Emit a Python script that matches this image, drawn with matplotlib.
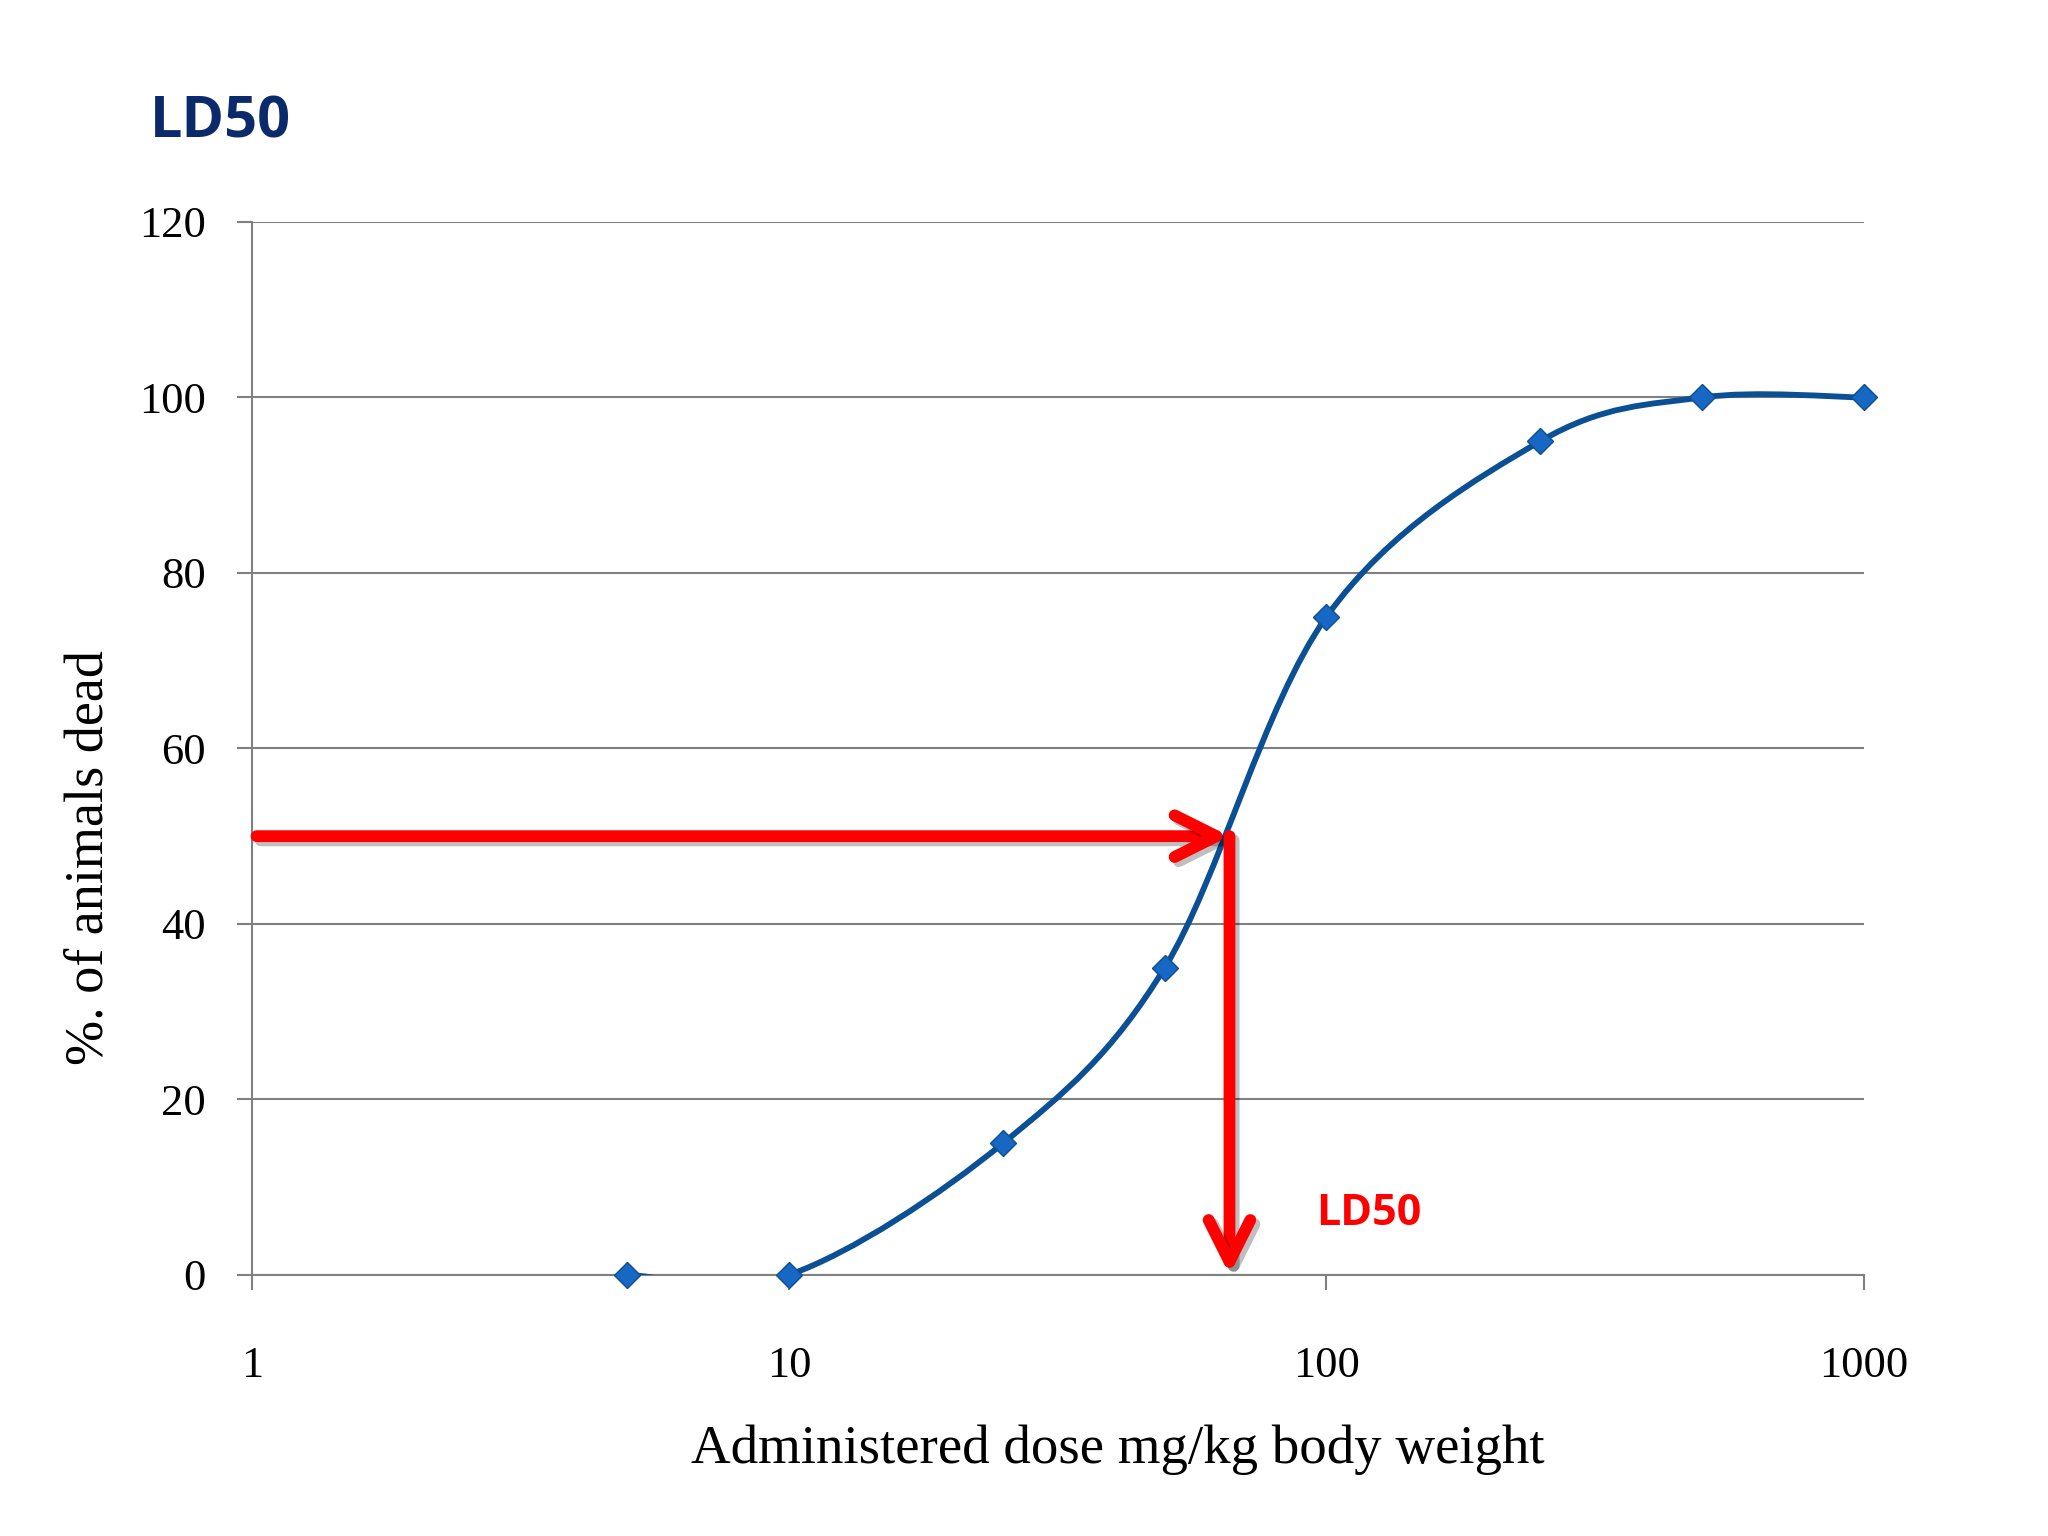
import numpy as np
import matplotlib
matplotlib.use('Agg')
import matplotlib.pyplot as plt
from matplotlib.path import Path
from matplotlib.patches import PathPatch, FancyArrowPatch
from matplotlib import patheffects as pe

# Données
dose = [5, 10, 25, 50, 100, 250, 500, 1000]
pct_dead = [0, 0, 15, 35, 75, 95, 100, 100]
ld50_dose = 66
x_ticks = [1, 10, 100, 1000]
x_tick_labels = ['1', '10', '100', '1000']
y_ticks = [0, 20, 40, 60, 80, 100, 120]

line_color = '#0b4f94'
marker_color = '#1668c4'
red = '#ff0000'
gray = '#808080'

fig = plt.figure(figsize=(20.48, 15.36), dpi=100)
ax = fig.add_axes([0.123, 0.170, 0.787, 0.6855])
ax.set_xscale('log')
ax.set_xlim(1, 1000)
ax.set_ylim(0, 120)

# Courbe lissée (Bezier façon Excel, calculée en coordonnées écran)
pts = ax.transData.transform(np.column_stack([dose, pct_dead]))
n = len(pts)
verts = [pts[0]]
codes = [Path.MOVETO]
for i in range(n - 1):
    p_prev = pts[i - 1] if i > 0 else pts[i]
    p_next2 = pts[i + 2] if i + 2 < n else pts[i + 1]
    c1 = pts[i] + (pts[i + 1] - p_prev) / 6
    c2 = pts[i + 1] - (p_next2 - pts[i]) / 6
    verts += [c1, c2, pts[i + 1]]
    codes += [Path.CURVE4] * 3
verts = ax.transData.inverted().transform(np.array(verts))
ax.add_patch(PathPatch(Path(verts, codes), fill=False, edgecolor=line_color,
                       lw=4.2, transform=ax.transData, zorder=3))
ax.plot(dose, pct_dead, linestyle='none', marker='D', markersize=13,
        markerfacecolor=marker_color, markeredgecolor='#0d4f8f',
        markeredgewidth=1, clip_on=False, zorder=4)

# Flèches rouges avec ombre
shadow = [pe.SimpleLineShadow(offset=(3, -3), shadow_color='black', alpha=0.25),
          pe.Normal()]
for start, end in [((1.02, 50), (ld50_dose, 50)), ((ld50_dose, 50), (ld50_dose, 0))]:
    arr = FancyArrowPatch(start, end, arrowstyle='->,head_length=30,head_width=15',
                          mutation_scale=1, color=red, lw=8.5, shrinkA=0, shrinkB=0,
                          capstyle='round', joinstyle='round', clip_on=False, zorder=5)
    arr.set_path_effects(shadow)
    ax.add_patch(arr)

ax.text(120, 7.0, 'LD50', color=red, fontsize=31, fontweight='bold',
        family='Open Sans', ha='center', va='center')

# Axes et grille
ax.set_xticks(x_ticks)
ax.set_xticklabels(x_tick_labels)
ax.xaxis.set_minor_locator(matplotlib.ticker.NullLocator())
ax.set_yticks(y_ticks)
ax.grid(axis='y', color=gray, lw=1.5)
ax.set_axisbelow(True)
for s in ['top', 'right']:
    ax.spines[s].set_visible(False)
for s in ['left', 'bottom']:
    ax.spines[s].set_color(gray)
    ax.spines[s].set_linewidth(1.5)
ax.tick_params(axis='y', length=11, width=1.5, color=gray, pad=22,
               labelsize=32, labelfontfamily='Liberation Serif')
ax.tick_params(axis='x', length=11, width=1.5, color=gray, pad=40,
               labelsize=32, labelfontfamily='Liberation Serif')
ax.set_xlabel('Administered dose mg/kg body weight', fontsize=39.5,
              family='Liberation Serif', va='center')
ax.xaxis.set_label_coords(0.537, -0.166)
ax.set_ylabel('%. of animals dead', fontsize=39, family='Liberation Serif', va='center')
ax.yaxis.set_label_coords(-0.101, 0.396)

fig.text(0.073, 1 - 122 / 1536, 'LD50', color='#0b2a6b', fontsize=41.5,
         fontweight='bold', family='Open Sans', ha='left', va='center')

plt.savefig('out.png', dpi=100)
plt.close()
